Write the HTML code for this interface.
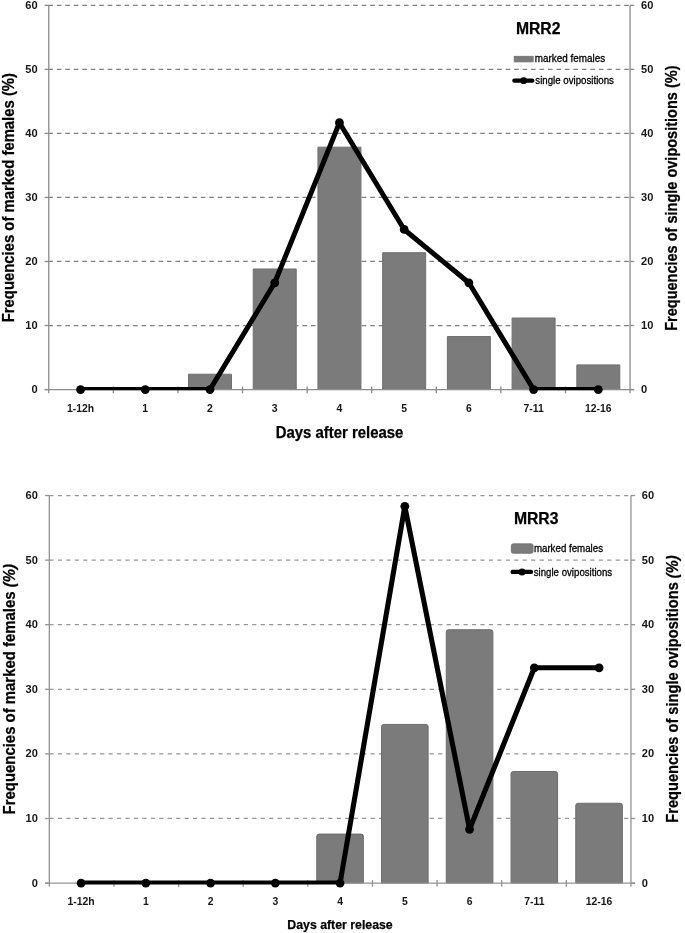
<!DOCTYPE html>
<html><head><meta charset="utf-8"><title>MRR charts</title>
<style>html,body{margin:0;padding:0;background:#fff;} body{width:685px;height:933px;overflow:hidden;} svg{display:block;will-change:transform;filter:blur(0.4px);}</style>
</head><body>
<svg width="685" height="933" viewBox="0 0 685 933">
<style>
text { font-family: "Liberation Sans", sans-serif; fill: #000; }
.tl { font-size: 10.3px; font-weight: bold; fill:#161616; }
.tt { font-weight: bold; fill:#000; stroke:#000; stroke-width:0.25px; }
.lg { font-weight: normal; fill:#000; stroke:#000; stroke-width:0.3px; }
</style>
<rect width="685" height="933" fill="#fff"/>
<line x1="48.43" y1="325.51" x2="630.07" y2="325.51" stroke="#808080" stroke-width="1.25" stroke-dasharray="4.6 3.867"/>
<line x1="48.43" y1="261.48" x2="630.07" y2="261.48" stroke="#808080" stroke-width="1.25" stroke-dasharray="4.6 3.867"/>
<line x1="48.43" y1="197.45" x2="630.07" y2="197.45" stroke="#808080" stroke-width="1.25" stroke-dasharray="4.6 3.867"/>
<line x1="48.43" y1="133.41" x2="630.07" y2="133.41" stroke="#808080" stroke-width="1.25" stroke-dasharray="4.6 3.867"/>
<line x1="48.43" y1="69.38" x2="630.07" y2="69.38" stroke="#808080" stroke-width="1.25" stroke-dasharray="4.6 3.867"/>
<line x1="48.43" y1="5.34" x2="630.07" y2="5.34" stroke="#808080" stroke-width="1.25" stroke-dasharray="4.6 3.867"/>
<path d="M188.50,389.55 V374.20 H231.50 V389.55 Z" fill="#7b7b7b" stroke="#707070" stroke-width="1"/>
<path d="M253.22,389.55 V268.99 H296.22 V389.55 Z" fill="#7b7b7b" stroke="#707070" stroke-width="1"/>
<path d="M317.94,389.55 V147.17 H360.94 V389.55 Z" fill="#7b7b7b" stroke="#707070" stroke-width="1"/>
<path d="M382.66,389.55 V252.69 H425.66 V389.55 Z" fill="#7b7b7b" stroke="#707070" stroke-width="1"/>
<path d="M447.38,389.55 V336.52 H490.38 V389.55 Z" fill="#7b7b7b" stroke="#707070" stroke-width="1"/>
<path d="M512.10,389.55 V318.01 H555.10 V389.55 Z" fill="#7b7b7b" stroke="#707070" stroke-width="1"/>
<path d="M576.82,389.55 V364.88 H619.82 V389.55 Z" fill="#7b7b7b" stroke="#707070" stroke-width="1"/>
<line x1="48.76" y1="5.34" x2="48.76" y2="393.35" stroke="#8c8c8c" stroke-width="1.3"/>
<line x1="630.07" y1="5.34" x2="630.07" y2="393.35" stroke="#8c8c8c" stroke-width="1.3"/>
<line x1="44.76" y1="389.55" x2="634.07" y2="389.55" stroke="#8c8c8c" stroke-width="1.3"/>
<line x1="44.56" y1="389.55" x2="48.76" y2="389.55" stroke="#8c8c8c" stroke-width="1.3"/>
<line x1="630.07" y1="389.55" x2="634.27" y2="389.55" stroke="#8c8c8c" stroke-width="1.3"/>
<line x1="44.56" y1="325.51" x2="48.76" y2="325.51" stroke="#8c8c8c" stroke-width="1.3"/>
<line x1="630.07" y1="325.51" x2="634.27" y2="325.51" stroke="#8c8c8c" stroke-width="1.3"/>
<line x1="44.56" y1="261.48" x2="48.76" y2="261.48" stroke="#8c8c8c" stroke-width="1.3"/>
<line x1="630.07" y1="261.48" x2="634.27" y2="261.48" stroke="#8c8c8c" stroke-width="1.3"/>
<line x1="44.56" y1="197.45" x2="48.76" y2="197.45" stroke="#8c8c8c" stroke-width="1.3"/>
<line x1="630.07" y1="197.45" x2="634.27" y2="197.45" stroke="#8c8c8c" stroke-width="1.3"/>
<line x1="44.56" y1="133.41" x2="48.76" y2="133.41" stroke="#8c8c8c" stroke-width="1.3"/>
<line x1="630.07" y1="133.41" x2="634.27" y2="133.41" stroke="#8c8c8c" stroke-width="1.3"/>
<line x1="44.56" y1="69.38" x2="48.76" y2="69.38" stroke="#8c8c8c" stroke-width="1.3"/>
<line x1="630.07" y1="69.38" x2="634.27" y2="69.38" stroke="#8c8c8c" stroke-width="1.3"/>
<line x1="44.56" y1="5.34" x2="48.76" y2="5.34" stroke="#8c8c8c" stroke-width="1.3"/>
<line x1="630.07" y1="5.34" x2="634.27" y2="5.34" stroke="#8c8c8c" stroke-width="1.3"/>
<line x1="113.35" y1="386.55" x2="113.35" y2="393.35" stroke="#8c8c8c" stroke-width="1.3"/>
<line x1="177.94" y1="386.55" x2="177.94" y2="393.35" stroke="#8c8c8c" stroke-width="1.3"/>
<line x1="242.53" y1="386.55" x2="242.53" y2="393.35" stroke="#8c8c8c" stroke-width="1.3"/>
<line x1="307.12" y1="386.55" x2="307.12" y2="393.35" stroke="#8c8c8c" stroke-width="1.3"/>
<line x1="371.71" y1="386.55" x2="371.71" y2="393.35" stroke="#8c8c8c" stroke-width="1.3"/>
<line x1="436.30" y1="386.55" x2="436.30" y2="393.35" stroke="#8c8c8c" stroke-width="1.3"/>
<line x1="500.89" y1="386.55" x2="500.89" y2="393.35" stroke="#8c8c8c" stroke-width="1.3"/>
<line x1="565.48" y1="386.55" x2="565.48" y2="393.35" stroke="#8c8c8c" stroke-width="1.3"/>
<clipPath id="c1"><rect x="0" y="-14.66" width="685" height="404.96"/></clipPath>
<polyline points="80.56,389.55 145.28,389.55 210.00,389.55 274.72,282.80 339.44,122.72 404.16,229.46 468.88,282.80 533.60,389.55 598.32,389.55" fill="none" stroke="#000" stroke-width="5" stroke-linejoin="round" clip-path="url(#c1)"/>
<circle cx="80.56" cy="389.55" r="4.4" fill="#000"/>
<circle cx="145.28" cy="389.55" r="4.4" fill="#000"/>
<circle cx="210.00" cy="389.55" r="4.4" fill="#000"/>
<circle cx="274.72" cy="282.80" r="4.4" fill="#000"/>
<circle cx="339.44" cy="122.72" r="4.4" fill="#000"/>
<circle cx="404.16" cy="229.46" r="4.4" fill="#000"/>
<circle cx="468.88" cy="282.80" r="4.4" fill="#000"/>
<circle cx="533.60" cy="389.55" r="4.4" fill="#000"/>
<circle cx="598.32" cy="389.55" r="4.4" fill="#000"/>
<text x="37.60" y="393.15" text-anchor="end" class="tl" textLength="6.19" lengthAdjust="spacingAndGlyphs">0</text>
<text x="641.00" y="393.15" text-anchor="start" class="tl" textLength="6.19" lengthAdjust="spacingAndGlyphs">0</text>
<text x="37.60" y="329.12" text-anchor="end" class="tl" textLength="12.37" lengthAdjust="spacingAndGlyphs">10</text>
<text x="641.00" y="329.12" text-anchor="start" class="tl" textLength="12.37" lengthAdjust="spacingAndGlyphs">10</text>
<text x="37.60" y="265.08" text-anchor="end" class="tl" textLength="12.37" lengthAdjust="spacingAndGlyphs">20</text>
<text x="641.00" y="265.08" text-anchor="start" class="tl" textLength="12.37" lengthAdjust="spacingAndGlyphs">20</text>
<text x="37.60" y="201.05" text-anchor="end" class="tl" textLength="12.37" lengthAdjust="spacingAndGlyphs">30</text>
<text x="641.00" y="201.05" text-anchor="start" class="tl" textLength="12.37" lengthAdjust="spacingAndGlyphs">30</text>
<text x="37.60" y="137.01" text-anchor="end" class="tl" textLength="12.37" lengthAdjust="spacingAndGlyphs">40</text>
<text x="641.00" y="137.01" text-anchor="start" class="tl" textLength="12.37" lengthAdjust="spacingAndGlyphs">40</text>
<text x="37.60" y="72.98" text-anchor="end" class="tl" textLength="12.37" lengthAdjust="spacingAndGlyphs">50</text>
<text x="641.00" y="72.98" text-anchor="start" class="tl" textLength="12.37" lengthAdjust="spacingAndGlyphs">50</text>
<text x="37.60" y="8.94" text-anchor="end" class="tl" textLength="12.37" lengthAdjust="spacingAndGlyphs">60</text>
<text x="641.00" y="8.94" text-anchor="start" class="tl" textLength="12.37" lengthAdjust="spacingAndGlyphs">60</text>
<text x="80.56" y="411.60" text-anchor="middle" class="tl" textLength="27.18" lengthAdjust="spacingAndGlyphs">1-12h</text>
<text x="145.28" y="411.60" text-anchor="middle" class="tl" textLength="5.79" lengthAdjust="spacingAndGlyphs">1</text>
<text x="210.00" y="411.60" text-anchor="middle" class="tl" textLength="5.79" lengthAdjust="spacingAndGlyphs">2</text>
<text x="274.72" y="411.60" text-anchor="middle" class="tl" textLength="5.79" lengthAdjust="spacingAndGlyphs">3</text>
<text x="339.44" y="411.60" text-anchor="middle" class="tl" textLength="5.79" lengthAdjust="spacingAndGlyphs">4</text>
<text x="404.16" y="411.60" text-anchor="middle" class="tl" textLength="5.79" lengthAdjust="spacingAndGlyphs">5</text>
<text x="468.88" y="411.60" text-anchor="middle" class="tl" textLength="5.79" lengthAdjust="spacingAndGlyphs">6</text>
<text x="533.60" y="411.60" text-anchor="middle" class="tl" textLength="20.25" lengthAdjust="spacingAndGlyphs">7-11</text>
<text x="598.32" y="411.60" text-anchor="middle" class="tl" textLength="26.61" lengthAdjust="spacingAndGlyphs">12-16</text>
<text x="275.80" y="438.10" class="tt" font-size="15.7" textLength="127.5" lengthAdjust="spacingAndGlyphs">Days after release</text>
<text transform="translate(14.20,322.30) rotate(-90)" class="tt" font-size="15.7" textLength="249.3" lengthAdjust="spacingAndGlyphs">Frequencies of marked females (%)</text>
<text transform="translate(677.20,330.80) rotate(-90)" class="tt" font-size="15.7" textLength="265.3" lengthAdjust="spacingAndGlyphs">Frequencies of single ovipositions (%)</text>
<text x="515.90" y="33.60" class="tt" font-size="15.9" textLength="44.6" lengthAdjust="spacingAndGlyphs">MRR2</text>
<rect x="514.2" y="56.3" width="19" height="5.6" rx="0" fill="#7b7b7b" stroke="#707070" stroke-width="0.8"/>
<line x1="514.3" y1="80.7" x2="532.4" y2="80.7" stroke="#000" stroke-width="4.2" stroke-linecap="round"/>
<circle cx="523.7" cy="80.7" r="3.4" fill="#000"/>
<text x="534.8" y="62.4" class="lg" font-size="10.4" textLength="70.3" lengthAdjust="spacingAndGlyphs">marked females</text>
<text x="535.3" y="83.7" class="lg" font-size="10.4" textLength="78.6" lengthAdjust="spacingAndGlyphs">single ovipositions</text>
<line x1="49.35" y1="818.48" x2="630.95" y2="818.48" stroke="#979797" stroke-width="1.25" stroke-dasharray="4.2 4.252"/>
<line x1="49.35" y1="753.89" x2="630.95" y2="753.89" stroke="#979797" stroke-width="1.25" stroke-dasharray="4.2 4.252"/>
<line x1="49.35" y1="689.30" x2="630.95" y2="689.30" stroke="#979797" stroke-width="1.25" stroke-dasharray="4.2 4.252"/>
<line x1="49.35" y1="624.71" x2="630.95" y2="624.71" stroke="#979797" stroke-width="1.25" stroke-dasharray="4.2 4.252"/>
<line x1="49.35" y1="560.12" x2="630.95" y2="560.12" stroke="#979797" stroke-width="1.25" stroke-dasharray="4.2 4.252"/>
<line x1="49.35" y1="495.53" x2="630.95" y2="495.53" stroke="#979797" stroke-width="1.25" stroke-dasharray="4.2 4.252"/>
<path d="M316.77,883.07 V836.29 Q316.77,834.09 318.97,834.09 H361.18 Q363.38,834.09 363.38,836.29 V883.07 Z" fill="#7b7b7b" stroke="#6e6e6e" stroke-width="1"/>
<path d="M381.52,883.07 V726.62 Q381.52,724.42 383.72,724.42 H425.93 Q428.12,724.42 428.12,726.62 V883.07 Z" fill="#7b7b7b" stroke="#6e6e6e" stroke-width="1"/>
<path d="M446.27,883.07 V631.93 Q446.27,629.73 448.47,629.73 H490.68 Q492.88,629.73 492.88,631.93 V883.07 Z" fill="#7b7b7b" stroke="#6e6e6e" stroke-width="1"/>
<path d="M511.03,883.07 V773.71 Q511.03,771.51 513.23,771.51 H555.42 Q557.62,771.51 557.62,773.71 V883.07 Z" fill="#7b7b7b" stroke="#6e6e6e" stroke-width="1"/>
<path d="M575.78,883.07 V805.48 Q575.78,803.28 577.98,803.28 H620.17 Q622.38,803.28 622.38,805.48 V883.07 Z" fill="#7b7b7b" stroke="#6e6e6e" stroke-width="1"/>
<line x1="49.34" y1="495.53" x2="49.34" y2="886.87" stroke="#939393" stroke-width="1.3"/>
<line x1="630.95" y1="495.53" x2="630.95" y2="886.87" stroke="#939393" stroke-width="1.3"/>
<line x1="45.34" y1="883.07" x2="634.95" y2="883.07" stroke="#939393" stroke-width="1.3"/>
<line x1="45.14" y1="883.07" x2="49.34" y2="883.07" stroke="#939393" stroke-width="1.3"/>
<line x1="630.95" y1="883.07" x2="635.15" y2="883.07" stroke="#939393" stroke-width="1.3"/>
<line x1="45.14" y1="818.48" x2="49.34" y2="818.48" stroke="#939393" stroke-width="1.3"/>
<line x1="630.95" y1="818.48" x2="635.15" y2="818.48" stroke="#939393" stroke-width="1.3"/>
<line x1="45.14" y1="753.89" x2="49.34" y2="753.89" stroke="#939393" stroke-width="1.3"/>
<line x1="630.95" y1="753.89" x2="635.15" y2="753.89" stroke="#939393" stroke-width="1.3"/>
<line x1="45.14" y1="689.30" x2="49.34" y2="689.30" stroke="#939393" stroke-width="1.3"/>
<line x1="630.95" y1="689.30" x2="635.15" y2="689.30" stroke="#939393" stroke-width="1.3"/>
<line x1="45.14" y1="624.71" x2="49.34" y2="624.71" stroke="#939393" stroke-width="1.3"/>
<line x1="630.95" y1="624.71" x2="635.15" y2="624.71" stroke="#939393" stroke-width="1.3"/>
<line x1="45.14" y1="560.12" x2="49.34" y2="560.12" stroke="#939393" stroke-width="1.3"/>
<line x1="630.95" y1="560.12" x2="635.15" y2="560.12" stroke="#939393" stroke-width="1.3"/>
<line x1="45.14" y1="495.53" x2="49.34" y2="495.53" stroke="#939393" stroke-width="1.3"/>
<line x1="630.95" y1="495.53" x2="635.15" y2="495.53" stroke="#939393" stroke-width="1.3"/>
<line x1="113.96" y1="880.07" x2="113.96" y2="886.87" stroke="#939393" stroke-width="1.3"/>
<line x1="178.59" y1="880.07" x2="178.59" y2="886.87" stroke="#939393" stroke-width="1.3"/>
<line x1="243.21" y1="880.07" x2="243.21" y2="886.87" stroke="#939393" stroke-width="1.3"/>
<line x1="307.83" y1="880.07" x2="307.83" y2="886.87" stroke="#939393" stroke-width="1.3"/>
<line x1="372.46" y1="880.07" x2="372.46" y2="886.87" stroke="#939393" stroke-width="1.3"/>
<line x1="437.08" y1="880.07" x2="437.08" y2="886.87" stroke="#939393" stroke-width="1.3"/>
<line x1="501.70" y1="880.07" x2="501.70" y2="886.87" stroke="#939393" stroke-width="1.3"/>
<line x1="566.33" y1="880.07" x2="566.33" y2="886.87" stroke="#939393" stroke-width="1.3"/>
<clipPath id="c2"><rect x="0" y="475.53" width="685" height="408.87"/></clipPath>
<polyline points="81.08,883.07 145.82,883.07 210.57,883.07 275.32,883.07 340.07,883.07 404.82,506.32 469.57,829.27 534.33,667.79 599.08,667.79" fill="none" stroke="#000" stroke-width="5.1" stroke-linejoin="round" clip-path="url(#c2)"/>
<circle cx="81.08" cy="883.07" r="4.4" fill="#000"/>
<circle cx="145.82" cy="883.07" r="4.4" fill="#000"/>
<circle cx="210.57" cy="883.07" r="4.4" fill="#000"/>
<circle cx="275.32" cy="883.07" r="4.4" fill="#000"/>
<circle cx="340.07" cy="883.07" r="4.4" fill="#000"/>
<circle cx="404.82" cy="506.32" r="4.4" fill="#000"/>
<circle cx="469.57" cy="829.27" r="4.4" fill="#000"/>
<circle cx="534.33" cy="667.79" r="4.4" fill="#000"/>
<circle cx="599.08" cy="667.79" r="4.4" fill="#000"/>
<text x="38.00" y="886.67" text-anchor="end" class="tl" textLength="6.19" lengthAdjust="spacingAndGlyphs">0</text>
<text x="641.80" y="886.67" text-anchor="start" class="tl" textLength="6.19" lengthAdjust="spacingAndGlyphs">0</text>
<text x="38.00" y="822.08" text-anchor="end" class="tl" textLength="12.37" lengthAdjust="spacingAndGlyphs">10</text>
<text x="641.80" y="822.08" text-anchor="start" class="tl" textLength="12.37" lengthAdjust="spacingAndGlyphs">10</text>
<text x="38.00" y="757.49" text-anchor="end" class="tl" textLength="12.37" lengthAdjust="spacingAndGlyphs">20</text>
<text x="641.80" y="757.49" text-anchor="start" class="tl" textLength="12.37" lengthAdjust="spacingAndGlyphs">20</text>
<text x="38.00" y="692.90" text-anchor="end" class="tl" textLength="12.37" lengthAdjust="spacingAndGlyphs">30</text>
<text x="641.80" y="692.90" text-anchor="start" class="tl" textLength="12.37" lengthAdjust="spacingAndGlyphs">30</text>
<text x="38.00" y="628.31" text-anchor="end" class="tl" textLength="12.37" lengthAdjust="spacingAndGlyphs">40</text>
<text x="641.80" y="628.31" text-anchor="start" class="tl" textLength="12.37" lengthAdjust="spacingAndGlyphs">40</text>
<text x="38.00" y="563.72" text-anchor="end" class="tl" textLength="12.37" lengthAdjust="spacingAndGlyphs">50</text>
<text x="641.80" y="563.72" text-anchor="start" class="tl" textLength="12.37" lengthAdjust="spacingAndGlyphs">50</text>
<text x="38.00" y="499.13" text-anchor="end" class="tl" textLength="12.37" lengthAdjust="spacingAndGlyphs">60</text>
<text x="641.80" y="499.13" text-anchor="start" class="tl" textLength="12.37" lengthAdjust="spacingAndGlyphs">60</text>
<text x="81.08" y="905.20" text-anchor="middle" class="tl" textLength="27.18" lengthAdjust="spacingAndGlyphs">1-12h</text>
<text x="145.82" y="905.20" text-anchor="middle" class="tl" textLength="5.79" lengthAdjust="spacingAndGlyphs">1</text>
<text x="210.57" y="905.20" text-anchor="middle" class="tl" textLength="5.79" lengthAdjust="spacingAndGlyphs">2</text>
<text x="275.32" y="905.20" text-anchor="middle" class="tl" textLength="5.79" lengthAdjust="spacingAndGlyphs">3</text>
<text x="340.07" y="905.20" text-anchor="middle" class="tl" textLength="5.79" lengthAdjust="spacingAndGlyphs">4</text>
<text x="404.82" y="905.20" text-anchor="middle" class="tl" textLength="5.79" lengthAdjust="spacingAndGlyphs">5</text>
<text x="469.57" y="905.20" text-anchor="middle" class="tl" textLength="5.79" lengthAdjust="spacingAndGlyphs">6</text>
<text x="534.33" y="905.20" text-anchor="middle" class="tl" textLength="20.25" lengthAdjust="spacingAndGlyphs">7-11</text>
<text x="599.08" y="905.20" text-anchor="middle" class="tl" textLength="26.61" lengthAdjust="spacingAndGlyphs">12-16</text>
<text x="287.30" y="928.90" class="tt" font-size="13.1" textLength="105.4" lengthAdjust="spacingAndGlyphs">Days after release</text>
<text transform="translate(14.70,814.40) rotate(-90)" class="tt" font-size="15.7" textLength="250.3" lengthAdjust="spacingAndGlyphs">Frequencies of marked females <tspan font-style="italic">(%)</tspan></text>
<text transform="translate(677.90,822.70) rotate(-90)" class="tt" font-size="15.7" textLength="267.3" lengthAdjust="spacingAndGlyphs">Frequencies of single ovipositions <tspan font-style="italic">(%)</tspan></text>
<text x="513.90" y="524.00" class="tt" font-size="15.9" textLength="44.6" lengthAdjust="spacingAndGlyphs">MRR3</text>
<rect x="511.3" y="543.8" width="21.8" height="9.5" rx="2" fill="#7b7b7b" stroke="#6e6e6e" stroke-width="0.8"/>
<line x1="512.7" y1="571.9" x2="530.9" y2="571.9" stroke="#000" stroke-width="4.4" stroke-linecap="round"/>
<circle cx="522.0" cy="571.9" r="3.5" fill="#000"/>
<text x="533.9" y="552.1" class="lg" font-size="10.4" textLength="69.1" lengthAdjust="spacingAndGlyphs">marked females</text>
<text x="533.7" y="575.7" class="lg" font-size="10.4" textLength="78.5" lengthAdjust="spacingAndGlyphs">single ovipositions</text>
</svg>
</body></html>
